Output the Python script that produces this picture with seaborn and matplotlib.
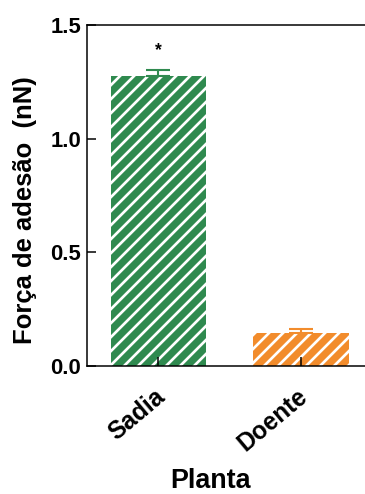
import matplotlib
matplotlib.use("Agg")
import matplotlib.pyplot as plt
import matplotlib.transforms as mtransforms
import seaborn as sns
import pandas as pd

# Adhesion force by plant condition
plantas = ["Sadia", "Doente"]
forca = [1.274, 0.144]
erro = [0.028, 0.019]
cores = ["#2f8a4f", "#f28c2c"]
yticks = [0.0, 0.5, 1.0, 1.5]
marca = "*"

sns.set_theme(style="white")
plt.rcParams["font.family"] = ["Liberation Sans", "DejaVu Sans"]
plt.rcParams["font.weight"] = "bold"
plt.rcParams["text.color"] = "black"
plt.rcParams["axes.labelcolor"] = "black"
plt.rcParams["xtick.color"] = "black"
plt.rcParams["ytick.color"] = "black"
plt.rcParams["hatch.color"] = "white"
plt.rcParams["hatch.linewidth"] = 2.3

DPI = 84
fig = plt.figure(figsize=(366 / DPI, 494 / DPI), dpi=DPI)
ax = fig.add_axes([87 / 366, 1 - 366 / 494, (372.5 - 87) / 366, (366 - 25) / 494])

df = pd.DataFrame({"Planta": plantas, "Forca": forca})
sns.barplot(data=df, x="Planta", y="Forca", hue="Planta", palette=cores,
            saturation=1, width=0.67, linewidth=0, legend=False, ax=ax)

for bar, c in zip(ax.patches, cores):
    bar.set_hatch("//")
    bar.set_linewidth(0)
    bar.set_edgecolor("white")
    if hasattr(bar, "set_hatchcolor"):
        bar.set_hatchcolor("white")

for i, (v, e, c) in enumerate(zip(forca, erro, cores)):
    ax.errorbar(i, v, yerr=[[0], [e]], color=c, capsize=10, elinewidth=1.8,
                capthick=1.8, zorder=3)

ax.text(0, forca[0] + erro[0] + 0.085, marca, ha="center", va="center",
        fontsize=15, fontweight="bold", color="black")

ax.set_axisbelow(False)
ax.set_xlim(-0.5, 1.5)
ax.set_ylim(0, 1.5)
ax.set_yticks(yticks)
ax.set_yticklabels([f"{t:.1f}" for t in yticks], fontsize=19, fontweight="bold")
ax.set_xticks(range(len(plantas)))
ax.set_xticklabels(plantas, rotation=40, ha="right", rotation_mode="anchor",
                   fontsize=21, fontweight="bold")
ax.tick_params(axis="both", direction="in", length=8, width=1.3, color="black",
               bottom=True, left=True, pad=5)
ax.tick_params(axis="x", pad=16)
shift = mtransforms.ScaledTranslation(-4 / DPI, 0, fig.dpi_scale_trans)
for lab in ax.get_xticklabels():
    lab.set_transform(lab.get_transform() + shift)

ax.set_xlabel("Planta", fontsize=23, fontweight="bold")
ax.set_ylabel("Força de adesão  (nN)", fontsize=22, fontweight="bold")
ax.xaxis.set_label_coords(0.434, -0.300)
ax.yaxis.set_label_coords(-0.175, 0.457)

for s in ["left", "bottom", "top", "right"]:
    ax.spines[s].set_visible(True)
    ax.spines[s].set_color("black")
    ax.spines[s].set_linewidth(1.3)

fig.savefig("out.png", dpi=DPI)
